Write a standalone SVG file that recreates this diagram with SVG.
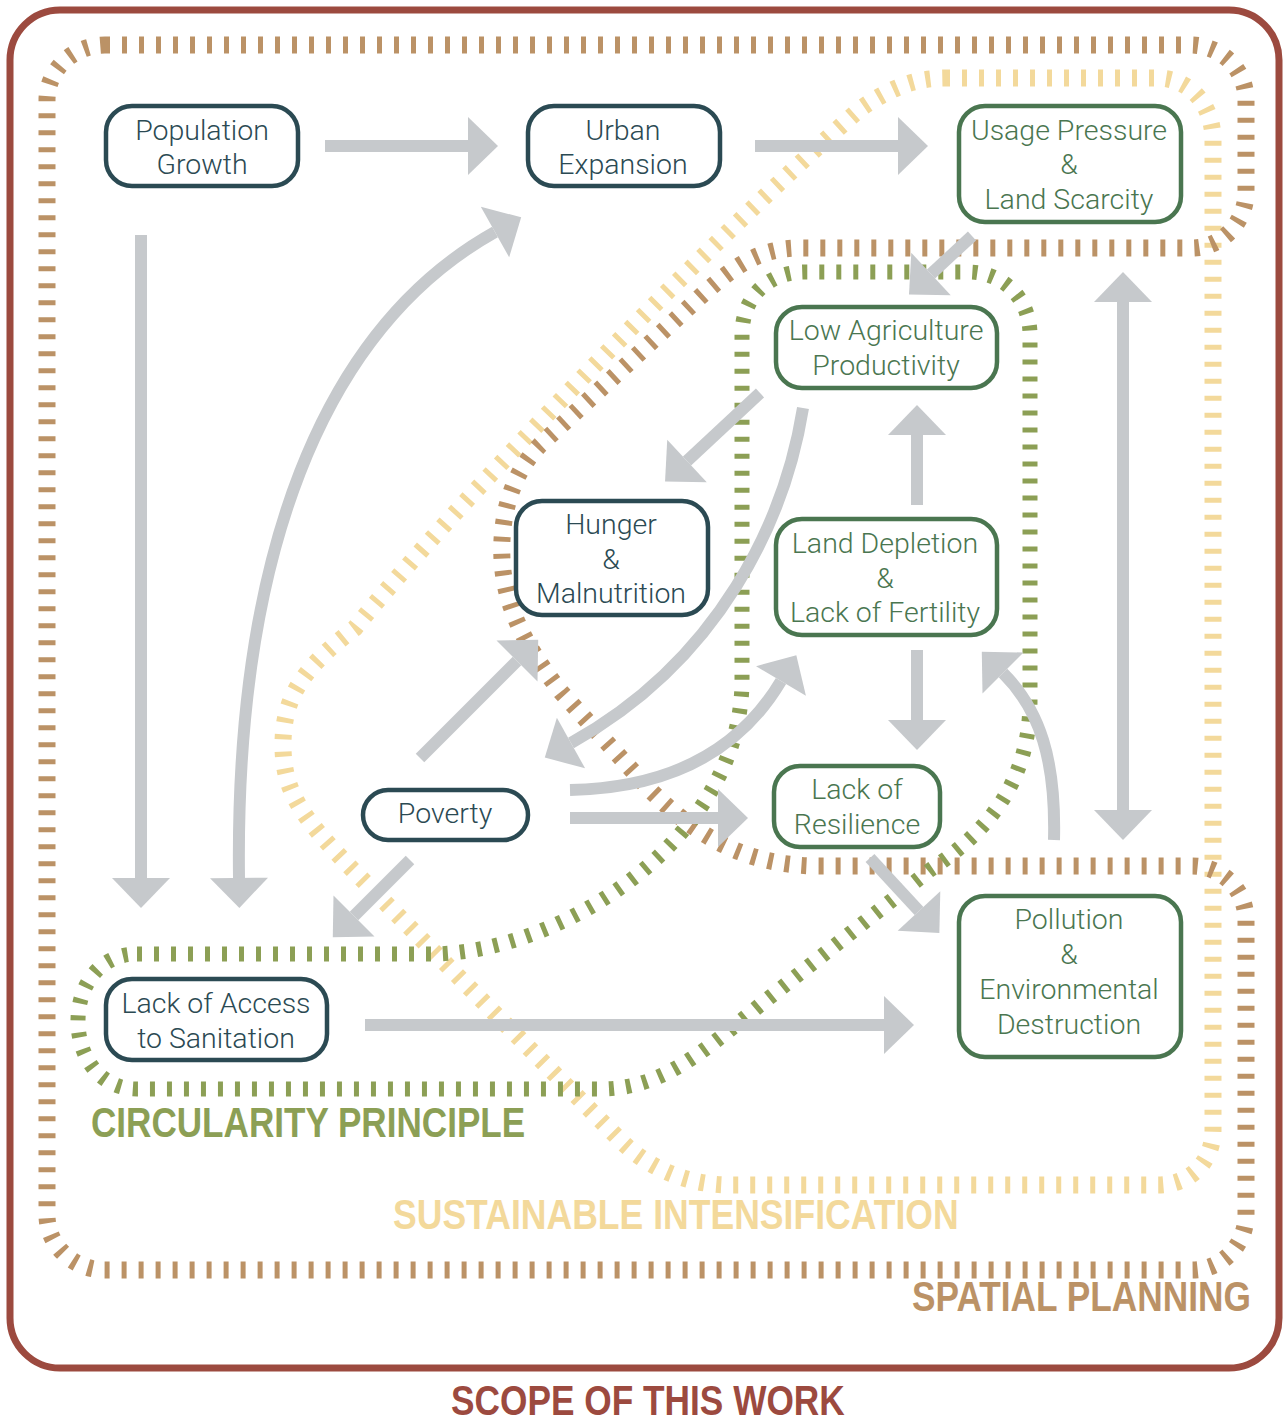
<svg xmlns="http://www.w3.org/2000/svg" width="1283" height="1421" viewBox="0 0 1283 1421">
  <defs>
    <style>
      .zone { fill: none; stroke-dasharray: 5 12; }
      .zone-si { stroke: #f3d99b; stroke-width: 17; }
      .zone-sp { stroke: #bb9266; stroke-width: 17; }
      .zone-cp { stroke: #8c9f55; stroke-width: 15; }
      .link { fill: none; stroke: #c6c9cc; stroke-width: 12; marker-end: url(#head); }
      .both { marker-start: url(#head); }
      .box { fill: #ffffff; stroke-width: 4.5; }
      .teal rect { stroke: #2b4a53; }
      .teal text { fill: #2b4a53; }
      .green rect { stroke: #4a7650; }
      .green text { fill: #4a7650; }
      .label { font-family: Roboto, "Liberation Sans", sans-serif; font-weight: 300; font-size: 28.5px; text-anchor: middle; }
      .title { font-family: "Liberation Sans", Arial, sans-serif; font-weight: bold; font-size: 42px; }
    </style>
    <marker id="head" markerUnits="userSpaceOnUse" markerWidth="32" markerHeight="60" refX="0" refY="29" orient="auto-start-reverse" overflow="visible">
      <path d="M0,0 L30,29 L0,58 Z" fill="#c6c9cc"/>
    </marker>
  </defs>

  <rect x="0" y="0" width="1283" height="1421" fill="#ffffff"/>

  <!-- scope frame -->
  <rect x="10" y="10" width="1269" height="1358" rx="50" fill="none" stroke="#9c4a3f" stroke-width="7"/>

  <!-- thematic zones -->
  <g id="zones">
    <path id="zone-sustainable" class="zone zone-si" d="M945,78 L1157,78 C1190,78 1213,105 1213,140 L1213,1130 C1213,1162 1190,1185 1158,1185 L730,1185 C690,1185 650,1170 620,1140 L350,867 C300,815 283,790 283,745 C283,700 300,670 355,628 C450,510 700,250 860,109 C890,88 915,78 945,78 Z"/>
    <path id="zone-spatial" class="zone zone-sp" d="M105,45 L1190,45 C1222,45 1246,70 1246,100 L1246,192 C1246,222 1222,248 1192,248 L800,248 C760,248 735,265 700,297 L540,445 C510,475 500,520 502,559 C504,600 520,640 561,692 L650,790 C700,840 750,866 820,866 L1192,866 C1222,866 1246,890 1246,920 L1246,1215 C1246,1245 1222,1270 1192,1270 L105,1270 C73,1270 47,1245 47,1215 L47,100 C47,70 73,45 105,45 Z"/>
    <path id="zone-circularity" class="zone zone-cp" d="M137,954 L430,954 C560,954 742,840 742,680 L742,335 C742,295 770,272 805,272 L968,272 C1003,272 1030,298 1030,335 L1030,700 C1030,780 990,830 930,870 L760,1005 C700,1055 660,1089 600,1089 L137,1089 C100,1089 78,1057 78,1021 C78,985 100,954 137,954 Z"/>
  </g>

  <!-- connectors -->
  <g id="connectors">
    <path class="link" d="M325,146 L468,146"/>
    <path class="link" d="M755,146 L898,146"/>
    <path class="link" d="M141,235 L141,878"/>
    <path class="link both" d="M239,878 C235,560 320,330 495,232"/>
    <path class="link" d="M420,758 L517,661"/>
    <path class="link" d="M410,860 L354,916"/>
    <path class="link" d="M570,790 C670,788 740,750 781,681"/>
    <path class="link" d="M570,818 L718,818"/>
    <path class="link" d="M803,408 C785,520 720,660 571,743"/>
    <path class="link" d="M760,393 L687,461"/>
    <path class="link" d="M972,236 L931,274"/>
    <path class="link" d="M917,505 L917,435"/>
    <path class="link" d="M917,650 L917,720"/>
    <path class="link" d="M870,858 L919,911"/>
    <path class="link" d="M365,1025 L884,1025"/>
    <path class="link both" d="M1123,302 L1123,810"/>
    <path class="link" d="M1054,840 C1056,760 1040,710 1003,673"/>
  </g>

  <!-- nodes -->
  <g id="population-growth" class="teal">
    <rect class="box" x="106" y="106" width="192" height="80" rx="26"/>
    <text class="label" x="202" y="140">Population</text>
    <text class="label" x="202" y="174">Growth</text>
  </g>
  <g id="urban-expansion" class="teal">
    <rect class="box" x="528" y="106" width="192" height="80" rx="26"/>
    <text class="label" x="623" y="140">Urban</text>
    <text class="label" x="623" y="174">Expansion</text>
  </g>
  <g id="usage-pressure" class="green">
    <rect class="box" x="959" y="106" width="222" height="116" rx="26"/>
    <text class="label" x="1069" y="140">Usage Pressure</text>
    <text class="label" x="1069" y="174">&amp;</text>
    <text class="label" x="1069" y="209">Land Scarcity</text>
  </g>
  <g id="low-agriculture-productivity" class="green">
    <rect class="box" x="776" y="307" width="221" height="81" rx="26"/>
    <text class="label" x="886" y="340">Low Agriculture</text>
    <text class="label" x="886" y="375">Productivity</text>
  </g>
  <g id="hunger-malnutrition" class="teal">
    <rect class="box" x="516" y="501" width="192" height="114" rx="26"/>
    <text class="label" x="611" y="534">Hunger</text>
    <text class="label" x="611" y="569">&amp;</text>
    <text class="label" x="611" y="603">Malnutrition</text>
  </g>
  <g id="land-depletion" class="green">
    <rect class="box" x="776" y="519" width="221" height="116" rx="26"/>
    <text class="label" x="885" y="553">Land Depletion</text>
    <text class="label" x="885" y="588">&amp;</text>
    <text class="label" x="885" y="622">Lack of Fertility</text>
  </g>
  <g id="lack-of-resilience" class="green">
    <rect class="box" x="774" y="766" width="166" height="81" rx="26"/>
    <text class="label" x="857" y="799">Lack of</text>
    <text class="label" x="857" y="834">Resilience</text>
  </g>
  <g id="poverty" class="teal">
    <rect class="box" x="363" y="790" width="165" height="50" rx="25"/>
    <text class="label" x="445" y="823">Poverty</text>
  </g>
  <g id="lack-of-access-to-sanitation" class="teal">
    <rect class="box" x="106" y="979" width="221" height="81" rx="26"/>
    <text class="label" x="216" y="1013">Lack of Access</text>
    <text class="label" x="216" y="1048">to Sanitation</text>
  </g>
  <g id="pollution" class="green">
    <rect class="box" x="959" y="896" width="222" height="161" rx="26"/>
    <text class="label" x="1069" y="929">Pollution</text>
    <text class="label" x="1069" y="964">&amp;</text>
    <text class="label" x="1069" y="999">Environmental</text>
    <text class="label" x="1069" y="1034">Destruction</text>
  </g>

  <!-- zone titles, set in a horizontally condensed bold face -->
  <g id="titles">
    <text class="title" transform="translate(91,1137) scale(0.836,1)" fill="#8c9f55">CIRCULARITY PRINCIPLE</text>
    <text class="title" transform="translate(393,1229) scale(0.847,1)" fill="#f3d99b">SUSTAINABLE INTENSIFICATION</text>
    <text class="title" transform="translate(912,1311) scale(0.840,1)" fill="#bb9266">SPATIAL PLANNING</text>
    <text class="title" transform="translate(451,1415) scale(0.840,1)" fill="#9c4a3f" font-size="41">SCOPE OF THIS WORK</text>
  </g>
</svg>
